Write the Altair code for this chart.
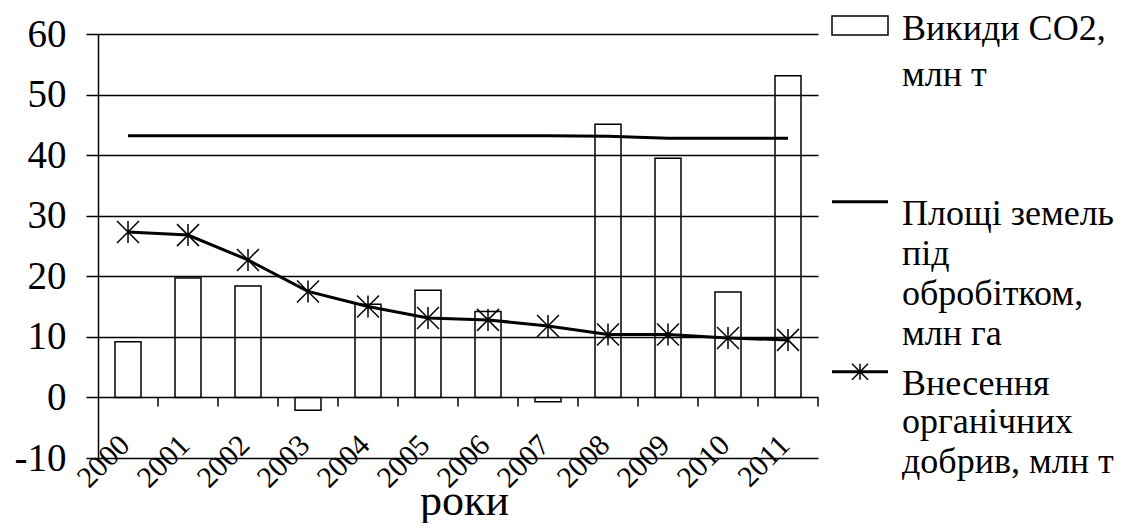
import altair as alt
import pandas as pd

# ---------------- data ----------------
YEARS = ["2000", "2001", "2002", "2003", "2004", "2005",
         "2006", "2007", "2008", "2009", "2010", "2011"]
CO2 = [9.2, 19.7, 18.4, -2.1, 15.4, 17.7, 14.2, -0.7, 45.1, 39.5, 17.4, 53.1]
LAND = [43.2, 43.2, 43.2, 43.2, 43.2, 43.2, 43.2, 43.2, 43.1, 42.8, 42.8, 42.8]
FERT = [27.3, 26.8, 22.7, 17.5, 15.0, 13.1, 12.8, 11.8, 10.4, 10.4, 9.8, 9.5]
Y_TICKS = [-10, 0, 10, 20, 30, 40, 50, 60]
X_TITLE = "роки"
LEGEND_LINES = [
    ["Викиди СО2,", "млн т"],
    ["Площі земель", "під", "обробітком,", "млн га"],
    ["Внесення", "органічних", "добрив, млн т"],
]

df = pd.DataFrame({"year": YEARS, "co2": CO2, "land": LAND, "fert": FERT})

FONT = "Liberation Serif"
ASTERISK = "M-1,-1L1,1M-1,1L1,-1M0,-1L0,1"

x_axis = alt.Axis(
    labelAngle=-45, labelAlign="right", labelBaseline="middle",
    labelFont=FONT, labelFontSize=30, labelColor="black",
    labelPadding=-18, labelOffset=-3, labelOverlap=False, labelFlush=False,
    domain=False, ticks=False, grid=False,
    title=X_TITLE, titleFont=FONT, titleFontSize=44, titleFontWeight="normal",
    titleColor="black", titleX=366, titleY=56, titleAlign="center",
    titleBaseline="alphabetic",
)
x_scale = alt.Scale(type="band", paddingInner=0, paddingOuter=0)

y_axis = alt.Axis(
    values=Y_TICKS, grid=True, gridColor="black", gridWidth=1.5, gridOpacity=1,
    domainColor="black", domainWidth=1.5, tickColor="black", tickSize=12,
    tickWidth=1.5, labelFont=FONT, labelFontSize=39, labelColor="black",
    labelPadding=20, title=None, labelExpr="'' + datum.value",
)
y_scale = alt.Scale(domain=[-10, 60], nice=False, zero=False)


def xenc(**kw):
    return alt.X("year:O", sort=YEARS, scale=x_scale, axis=x_axis, **kw)


def yenc(field):
    return alt.Y(field, type="quantitative", scale=y_scale, axis=y_axis)


bars = alt.Chart(df).mark_bar(
    fill="transparent", stroke="black", strokeWidth=1.5, size=26
).encode(x=xenc(), y=yenc("co2"), y2=alt.datum(0))

land = alt.Chart(df).mark_line(color="black", strokeWidth=3).encode(
    x=xenc(), y=yenc("land")
)

fert_line = alt.Chart(df).mark_line(color="black", strokeWidth=3).encode(
    x=xenc(), y=yenc("fert")
)

fert_pts = alt.Chart(df).mark_point(
    shape=ASTERISK, size=484, filled=False, stroke="black", strokeWidth=1.5, opacity=1
).encode(x=xenc(), y=yenc("fert"))

zero_ticks = alt.Chart(df).mark_tick(
    orient="vertical", size=9, thickness=1.5, color="black", yOffset=4.5, opacity=1
).encode(x=xenc(bandPosition=1), y=alt.datum(0))

# ---------------- legend (drawn by hand, Excel-like) ----------------
one = pd.DataFrame({"k": [0]})
LEG_SYM_X0, LEG_SYM_X1, LEG_TEXT_X = 734, 790, 804
ENTRY_BASELINES = [[5.5, 52.1], [191.1, 231.1, 271.1, 311.1], [361.1, 399.1, 439.1]]

legend_layers = []
legend_layers.append(
    alt.Chart(one).mark_rect(fill="transparent", stroke="black", strokeWidth=1.5).encode(
        x=alt.value(LEG_SYM_X0), x2=alt.value(LEG_SYM_X1),
        y=alt.value(-17.9), y2=alt.value(1.1),
    )
)
legend_layers.append(
    alt.Chart(one).mark_rule(color="black", strokeWidth=3).encode(
        x=alt.value(LEG_SYM_X0), x2=alt.value(LEG_SYM_X1), y=alt.value(167.8)
    )
)
legend_layers.append(
    alt.Chart(one).mark_rule(color="black", strokeWidth=3).encode(
        x=alt.value(LEG_SYM_X0), x2=alt.value(LEG_SYM_X1), y=alt.value(337.8)
    )
)
legend_layers.append(
    alt.Chart(one).mark_point(
        shape=ASTERISK, size=256, filled=False, stroke="black", strokeWidth=1.5, opacity=1
    ).encode(x=alt.value((LEG_SYM_X0 + LEG_SYM_X1) / 2), y=alt.value(337.8))
)
for lines, bases in zip(LEGEND_LINES, ENTRY_BASELINES):
    for line, b in zip(lines, bases):
        legend_layers.append(
            alt.Chart(one).mark_text(
                align="left", baseline="alphabetic", font=FONT, fontSize=36, color="black"
            ).encode(x=alt.value(LEG_TEXT_X), y=alt.value(b), text=alt.value(line))
        )

chart = alt.layer(
    bars, land, fert_line, fert_pts, zero_ticks, *legend_layers
).properties(
    width=720, height=424,
    padding={"left": 90, "top": 26, "right": 307, "bottom": 65},
    autosize=alt.AutoSizeParams(type="none"),
    background="white",
).configure_view(stroke=None)

chart.save("out.html", embed_options={"renderer": "svg", "actions": False})
